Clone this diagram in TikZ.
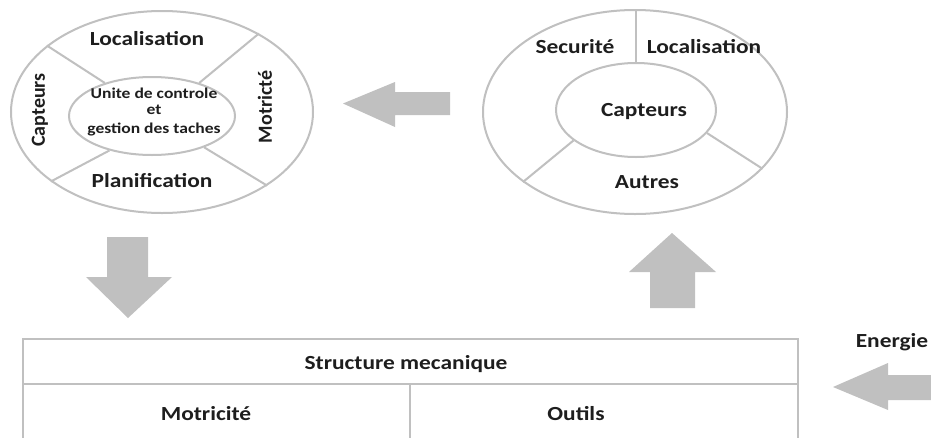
\documentclass[tikz,border=0pt]{standalone}
\usepackage{fontspec}
\setmainfont{Carlito}
\usetikzlibrary{shapes.geometric}
\definecolor{linegray}{HTML}{C0C0C0}
\definecolor{arrowgray}{HTML}{C0C0C0}
\definecolor{txt}{HTML}{1E1E1E}
\newcommand\hs[1]{\scalebox{1.17}[1]{#1}}
\begin{document}
\begin{tikzpicture}[x=1pt,y=-1pt,
  ell/.style={ellipse, draw=linegray, line width=2pt, inner sep=0pt},
  lbl/.style={font=\fontsize{20}{24}\selectfont\bfseries, text=txt, inner sep=0pt},
  lblb/.style={lbl, anchor=base},
  div/.style={draw=linegray, line width=2pt},
  cell/.style={draw=linegray, line width=2pt, anchor=north west, inner sep=0pt},
  blockarrow/.style={fill=arrowgray, draw=none}]
\useasboundingbox (0,0) rectangle (931,437);
\fill[white] (0,0) rectangle (931,437);

% left ellipse group
\node[ell, minimum width=302pt, minimum height=202pt] (Lo) at (162,112) {};
\node[ell, minimum width=166pt, minimum height=78pt] (Li) at (152,116) {};
\draw[div] (Li.145) -- (Lo.150);
\draw[div] (Li.35) -- (Lo.39);
\draw[div] (Li.219) -- (Lo.212);
\draw[div] (Li.329) -- (Lo.325);
\node[lblb] (l1) at (147,45) {\hs{Localisation}};
\node[lblb] (l2) at (152,187) {\hs{Planification}};
\node[lbl, rotate=90] (l3) at (40,110) {Capteurs};
\node[lbl, rotate=90] (l4) at (265,107) {Motricté};
\node[lbl, font=\fontsize{15}{15}\selectfont\bfseries, align=center] (l5) at (154,112)
  {\hs{Unite de controle}\\[1pt]\hs{et}\\[4pt]\hs{gestion des taches}};

% right ellipse group
\node[ell, minimum width=304pt, minimum height=204pt] (Ro) at (635,112) {};
\node[ell, minimum width=160pt, minimum height=94pt] (Ri) at (636,110) {};
\draw[div] (Ri.north) -- (Ri.north |- Ro.north);
\draw[div] (Ri.206) -- (Ro.212);
\draw[div] (Ri.342) -- (Ro.336);
\node[lblb] (r1) at (575,53) {\hs{Securité}};
\node[lblb] (r2) at (704,53) {\hs{Localisation}};
\node[lblb] (r3) at (644,116) {\hs{Capteurs}};
\node[lblb] (r4) at (647,188) {\hs{Autres}};

% table
\node[cell, minimum width=775pt, minimum height=45pt] (sm) at (22,338) {};
\node[cell, minimum width=387pt, minimum height=70pt] (mo) at (22,383) {};
\node[cell, minimum width=388pt, minimum height=70pt] (ou) at (409,383) {};
\node[lblb] (t1) at (406,369) {\hs{Structure mecanique}};
\node[lblb] (t2) at (206,420) {\hs{Motricité}};
\node[lblb] (t3) at (576,420) {\hs{Outils}};
\node[lblb] (en) at (892,347) {\hs{Energie}};

% block arrows
\fill[blockarrow] (343,103.5) -- (395,82) -- (395,92) -- (450,92) -- (450,115) -- (395,115) -- (395,127) -- cycle;
\fill[blockarrow] (107,237) -- (148,237) -- (148,277) -- (172,277) -- (128,318) -- (86,277) -- (107,277) -- cycle;
\fill[blockarrow] (672,233) -- (716,272) -- (695,272) -- (695,308) -- (650,308) -- (650,272) -- (629,272) -- cycle;
\fill[blockarrow] (833,387) -- (888,363) -- (888,375) -- (935,375) -- (935,400) -- (888,400) -- (888,410) -- cycle;
\end{tikzpicture}
\end{document}
